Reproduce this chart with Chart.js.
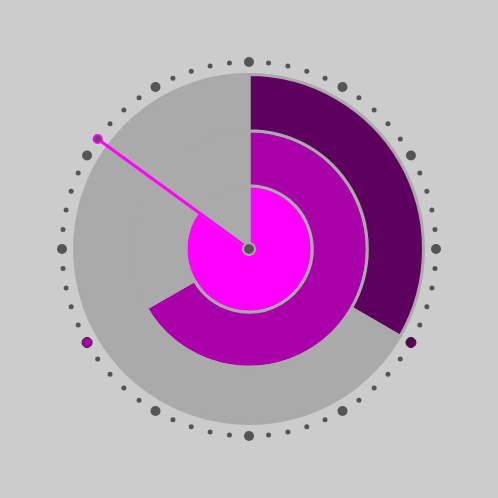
<!DOCTYPE html>
<html>
<head>
<meta charset="utf-8">
<script src="https://cdn.jsdelivr.net/npm/chart.js@4/dist/chart.umd.min.js"></script>
<style>
  html, body { margin: 0; padding: 0; background: #cccccc; }
  .wrap { position: absolute; left: 0; top: 0; width: 498px; height: 498px; }
</style>
</head>
<body>
<div class="wrap"><canvas id="rings"></canvas></div>
<div class="wrap"><canvas id="dial"></canvas></div>
<script>
// clock values: hours, minutes, seconds
const hands = ["hours", "minutes", "seconds"];
const handValues = [4, 40, 51];
const handMax = [12, 60, 60];
const ringColors = ["#5e005e", "#aa00aa", "#ff00ff"];
const ringWeights = [56, 55, 63];

// 60 marks round the dial, big ones every 5
const dialLabels = ["0","1","2","3","4","5","6","7","8","9","10","11","12","13","14","15","16","17","18","19",
  "20","21","22","23","24","25","26","27","28","29","30","31","32","33","34","35","36","37","38","39",
  "40","41","42","43","44","45","46","47","48","49","50","51","52","53","54","55","56","57","58","59"];
const dialDotSizes = [5,2.5,2.5,2.5,2.5, 5,2.5,2.5,2.5,2.5, 5,2.5,2.5,2.5,2.5, 5,2.5,2.5,2.5,2.5,
  5,2.5,2.5,2.5,2.5, 5,2.5,2.5,2.5,2.5, 5,2.5,2.5,2.5,2.5, 5,2.5,2.5,2.5,2.5,
  5,2.5,2.5,2.5,2.5, 5,2.5,2.5,2.5,2.5, 5,2.5,2.5,2.5,2.5, 5,2.5,2.5,2.5,2.5];

const grey = "#aaaaaa";
const dotGrey = "#555555";

// rings (doughnut, outer = hours)
new Chart(document.getElementById("rings"), {
  type: "doughnut",
  data: {
    labels: ["value", "rest"],
    datasets: hands.map((h, i) => ({
      label: h,
      data: [handValues[i], handMax[i] - handValues[i]],
      backgroundColor: [ringColors[i], grey],
      borderColor: grey,
      borderWidth: 3,
      weight: ringWeights[i]
    }))
  },
  options: {
    responsive: true,
    maintainAspectRatio: false,
    animation: false,
    cutout: 0,
    layout: { padding: 73 },
    plugins: { legend: { display: false }, tooltip: { enabled: false } }
  }
});

// dial marks + second hand (radar)
const hourIdx = handValues[0] * 5;
const minIdx = handValues[1];
const secIdx = handValues[2];

// value 0 on the slot before the hand = centre of the dial (hub)
const handData = dialLabels.map((_, i) => i === secIdx ? 1 : (i === secIdx - 1 ? 0 : null));
const handRadius = dialLabels.map((_, i) => i === secIdx ? 4 : (i === secIdx - 1 ? 6 : 0));
const handBorder = dialLabels.map((_, i) => i === secIdx ? ringColors[2] : grey);

const dotData = dialLabels.map(() => 1);
const dotColors = dialLabels.map((_, i) => i === hourIdx ? ringColors[0] : (i === minIdx ? ringColors[1] : dotGrey));
const dotBorderW = dialLabels.map((_, i) => (i === hourIdx || i === minIdx) ? 1 : 0);

new Chart(document.getElementById("dial"), {
  type: "radar",
  data: {
    labels: dialLabels,
    datasets: [
      {
        label: "hand",
        data: handData,
        borderColor: ringColors[2],
        backgroundColor: "rgba(0,0,0,0)",
        borderWidth: 3,
        fill: false,
        spanGaps: false,
        pointRadius: handRadius,
        pointBackgroundColor: dotGrey,
        pointBorderColor: handBorder,
        pointBorderWidth: 2
      },
      {
        label: "dial",
        data: dotData,
        showLine: false,
        fill: false,
        backgroundColor: "rgba(0,0,0,0)",
        borderColor: "rgba(0,0,0,0)",
        pointRadius: dialDotSizes,
        pointBackgroundColor: dotColors,
        pointBorderColor: "#222222",
        pointBorderWidth: dotBorderW
      }
    ]
  },
  options: {
    responsive: true,
    maintainAspectRatio: false,
    animation: false,
    layout: { padding: 62 },
    elements: { line: { tension: 0 } },
    scales: { r: { min: 0, max: 1, display: false } },
    plugins: { legend: { display: false }, tooltip: { enabled: false } }
  }
});
</script>
</body>
</html>
